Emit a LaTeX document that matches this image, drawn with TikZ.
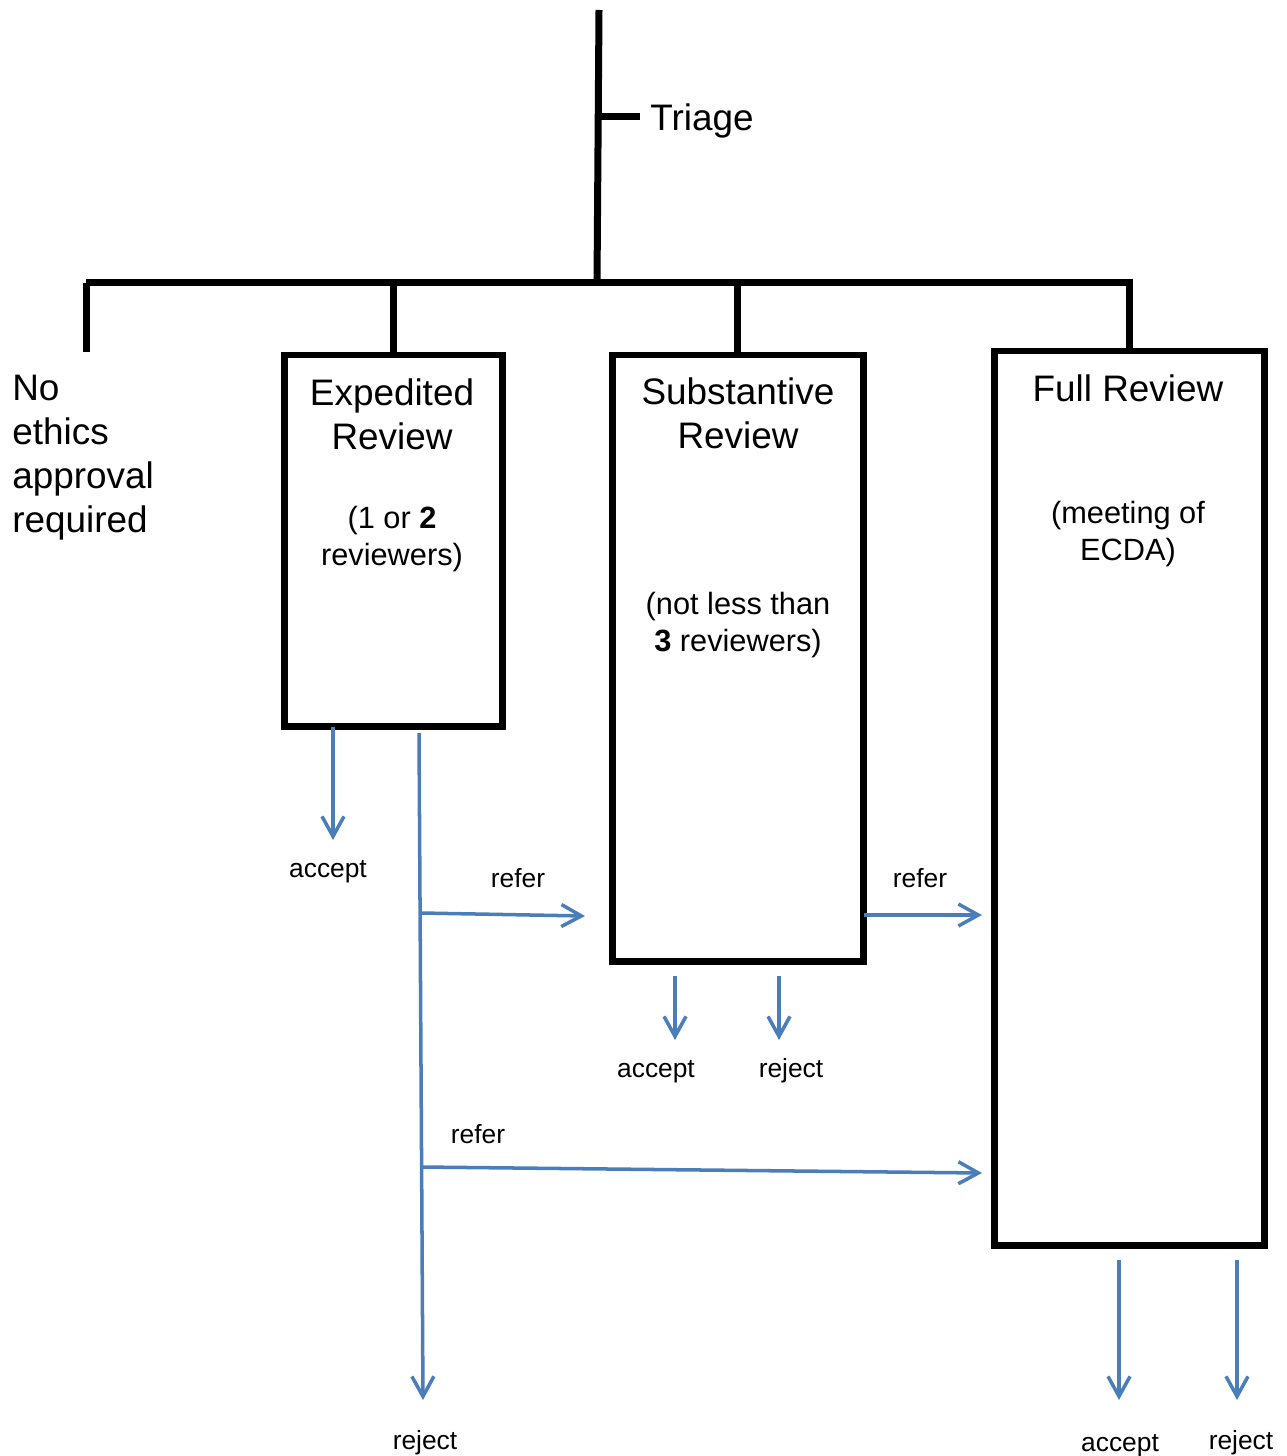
\documentclass[tikz,border=0pt]{standalone}
\usepackage{fontspec}
\setmainfont{Liberation Sans}
\usetikzlibrary{arrows.meta,positioning}
\definecolor{flowblue}{RGB}{74,126,187}
\begin{document}
\begin{tikzpicture}[x=0.02cm, y=-0.02cm,
    bar/.style = {line width=0.14cm},
    box/.style = {draw, line width=0.14cm, inner sep=0, outer sep=0, anchor=north west},
    big/.style = {font=\fontsize{21}{25}\selectfont, align=center, inner sep=0},
    note/.style = {font=\fontsize{17.5}{21}\selectfont, align=center, inner sep=0},
    lbl/.style = {font=\fontsize{15}{18}\selectfont, inner sep=0},
    flow/.style = {draw=flowblue, line width=2pt, -{Straight Barb[length=4mm, width=4.4mm]}}]
  \useasboundingbox (0,0) rectangle (1287,1456);

  % triage tree
  \coordinate (top) at (599,10);
  \coordinate (hub) at (597,283);
  \coordinate (tick) at (598,117);
  \coordinate (barL) at (86,283);
  \coordinate (barR) at (1133,283);
  \coordinate (noneTop) at (86,352);
  \node[big, anchor=west, inner xsep=0.2cm] (triage) at (640,121) {Triage};

  \node[box, minimum width=4.38cm, minimum height=7.44cm] (exp) at (284,355) {};
  \node[box, minimum width=5.04cm, minimum height=12.14cm] (sub) at (612,355) {};
  \node[box, minimum width=5.42cm, minimum height=17.9cm] (full) at (994,351) {};

  \draw[bar] (top) -- (hub);
  \draw[bar] (tick) -- (tick -| triage.west);
  \draw[bar] (barL) -- (barR);
  \draw[bar] (barL) -- (noneTop);
  \draw[bar] (exp.north) -- (exp.north |- hub);
  \draw[bar] (sub.north) -- (sub.north |- hub);
  \draw[bar] (full.north) -- (full.north |- hub);

  % texts
  \node[big, align=left, anchor=west] (none) at (12,458) {No\\ethics\\approval\\required};
  \node[big] (expTitle) at (392,414) {Expedited\\Review};
  \node[note] (expNote) at (392,539) {(1 or \textbf{2}\\reviewers)};
  \node[big] (subTitle) at (738,413) {Substantive\\Review};
  \node[note] (subNote) at (738,625) {(not less than\\\textbf{3} reviewers)};
  \node[big] (fullTitle) at (1128,388) {Full Review};
  \node[note] (fullNote) at (1128,534) {(meeting of\\ECDA)};

  % outcomes
  \coordinate (expAccEnd) at (333,840);
  \coordinate (split) at (419,733);
  \coordinate (expRejEnd) at (423,1400);
  \coordinate (fork1) at (421,913);
  \coordinate (fork2) at (421,1167);
  \coordinate (subIn) at (585,916);
  \coordinate (fullIn1) at (982,915);
  \coordinate (fullIn2) at (982,1173);
  \coordinate (subAccStart) at (675,976);
  \coordinate (subAccEnd) at (675,1040);
  \coordinate (subRejStart) at (779,976);
  \coordinate (subRejEnd) at (779,1040);
  \coordinate (fullAccStart) at (1119,1260);
  \coordinate (fullAccEnd) at (1119,1400);
  \coordinate (fullRejStart) at (1237,1260);
  \coordinate (fullRejEnd) at (1237,1400);

  \node[lbl] (expAcc) at (328,872) {accept};
  \node[lbl] (expRej) at (425,1443) {reject};
  \node[lbl] (refer1) at (518,878) {refer};
  \node[lbl] (refer2) at (478,1134) {refer};
  \node[lbl] (refer3) at (920,878) {refer};
  \node[lbl] (subAcc) at (656,1072) {accept};
  \node[lbl] (subRej) at (791,1071) {reject};
  \node[lbl] (fullAcc) at (1120,1446) {accept};
  \node[lbl] (fullRej) at (1241,1443) {reject};

  \draw[flow] (exp.south -| expAccEnd) -- (expAccEnd);
  \draw[flow] (split) -- (expRejEnd);
  \draw[flow] (fork1) -- (subIn);
  \draw[flow] (fork2) -- (fullIn2);
  \draw[flow] (sub.east |- fullIn1) -- (fullIn1);
  \draw[flow] (subAccStart) -- (subAccEnd);
  \draw[flow] (subRejStart) -- (subRejEnd);
  \draw[flow] (fullAccStart) -- (fullAccEnd);
  \draw[flow] (fullRejStart) -- (fullRejEnd);
\end{tikzpicture}
\end{document}
